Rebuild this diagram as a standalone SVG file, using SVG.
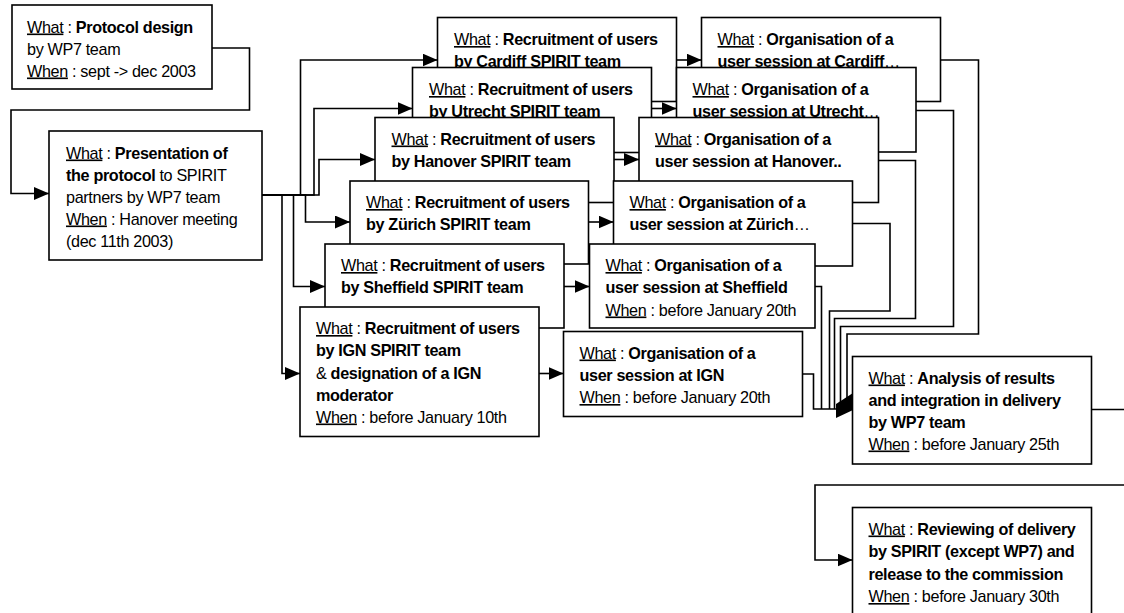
<svg xmlns="http://www.w3.org/2000/svg" width="1124" height="613" viewBox="0 0 1124 613">
<style>
.box{fill:#fff;stroke:#000;stroke-width:1.6}
.t{font-family:"Liberation Sans",Arial,sans-serif;font-size:16.2px;letter-spacing:-0.35px;fill:#000}
.b{font-weight:bold}
.u{text-decoration:underline}
.c{fill:none;stroke:#000;stroke-width:1.6}
.a{marker-end:url(#arr)}
</style>
<defs>
<marker id="arr" viewBox="0 0 15 13" refX="15" refY="6.5" markerWidth="15" markerHeight="13" markerUnits="userSpaceOnUse" orient="auto"><path d="M0,0 L15,6.5 L0,13 z" fill="#000"/></marker>
</defs>
<rect width="1124" height="613" fill="#fff"/>

<g id="n-protocol-design">
<rect class="box" x="12" y="5" width="200" height="84"/>
<text class="t"><tspan x="27" y="32.5"><tspan class="u">What</tspan> : <tspan class="b">Protocol design</tspan></tspan><tspan x="27" y="54.5">by WP7 team</tspan><tspan x="27" y="76.5"><tspan class="u">When</tspan> : sept -&gt; dec 2003</tspan></text>
</g>

<g id="n-presentation">
<rect class="box" x="49" y="131" width="213" height="129"/>
<text class="t"><tspan x="66" y="158.5"><tspan class="u">What</tspan> : <tspan class="b">Presentation of</tspan></tspan><tspan x="66" y="180.5"><tspan class="b">the protocol</tspan> to SPIRIT</tspan><tspan x="66" y="202.5">partners by WP7 team</tspan><tspan x="66" y="224.5"><tspan class="u">When</tspan> : Hanover meeting</tspan><tspan x="66" y="246.5">(dec 11th 2003)</tspan></text>
</g>

<g id="n-recruit-cardiff">
<rect class="box" x="437.5" y="17.5" width="239" height="84"/>
<text class="t"><tspan x="454" y="45"><tspan class="u">What</tspan> : <tspan class="b">Recruitment of users</tspan></tspan><tspan x="454" y="67" class="b">by Cardiff SPIRIT team</tspan></text>
</g>
<g id="n-org-cardiff">
<rect class="box" x="701.5" y="17.5" width="239" height="84"/>
<text class="t"><tspan x="717.5" y="45"><tspan class="u">What</tspan> : <tspan class="b">Organisation of a</tspan></tspan><tspan x="717.5" y="67"><tspan class="b">user session at Cardiff</tspan>…</tspan></text>
</g>

<g id="n-recruit-utrecht">
<rect class="box" x="412.5" y="67.5" width="239" height="85"/>
<text class="t"><tspan x="429" y="95"><tspan class="u">What</tspan> : <tspan class="b">Recruitment of users</tspan></tspan><tspan x="429" y="117" class="b">by Utrecht SPIRIT team</tspan></text>
</g>
<g id="n-org-utrecht">
<rect class="box" x="676.5" y="67.5" width="239.5" height="84.5"/>
<text class="t"><tspan x="692.5" y="95"><tspan class="u">What</tspan> : <tspan class="b">Organisation of a</tspan></tspan><tspan x="692.5" y="117"><tspan class="b">user session at Utrecht</tspan>…</tspan></text>
</g>

<g id="n-recruit-hanover">
<rect class="box" x="375" y="117.5" width="239" height="85"/>
<text class="t"><tspan x="391.5" y="144.5"><tspan class="u">What</tspan> : <tspan class="b">Recruitment of users</tspan></tspan><tspan x="391.5" y="166.5" class="b">by Hanover SPIRIT team</tspan></text>
</g>
<g id="n-org-hanover">
<rect class="box" x="639" y="117.5" width="239.5" height="85"/>
<text class="t"><tspan x="655" y="144.5"><tspan class="u">What</tspan> : <tspan class="b">Organisation of a</tspan></tspan><tspan x="655" y="166.5" class="b">user session at Hanover..</tspan></text>
</g>

<g id="n-recruit-zurich">
<rect class="box" x="350" y="181" width="238.5" height="83"/>
<text class="t"><tspan x="366" y="208"><tspan class="u">What</tspan> : <tspan class="b">Recruitment of users</tspan></tspan><tspan x="366" y="230" class="b">by Zürich SPIRIT team</tspan></text>
</g>
<g id="n-org-zurich">
<rect class="box" x="613.5" y="181" width="239" height="85"/>
<text class="t"><tspan x="629.5" y="208"><tspan class="u">What</tspan> : <tspan class="b">Organisation of a</tspan></tspan><tspan x="629.5" y="230"><tspan class="b">user session at Zürich</tspan>…</tspan></text>
</g>

<g id="n-recruit-sheffield">
<rect class="box" x="325" y="244" width="239" height="84"/>
<text class="t"><tspan x="341" y="271"><tspan class="u">What</tspan> : <tspan class="b">Recruitment of users</tspan></tspan><tspan x="341" y="293" class="b">by Sheffield SPIRIT team</tspan></text>
</g>
<g id="n-org-sheffield">
<rect class="box" x="589.5" y="244" width="225.5" height="84"/>
<text class="t"><tspan x="605.5" y="271"><tspan class="u">What</tspan> : <tspan class="b">Organisation of a</tspan></tspan><tspan x="605.5" y="293" class="b">user session at Sheffield</tspan><tspan x="605.5" y="315.5"><tspan class="u">When</tspan> : before January 20th</tspan></text>
</g>

<g id="n-recruit-ign">
<rect class="box" x="300" y="307" width="239" height="129.5"/>
<text class="t"><tspan x="316" y="334"><tspan class="u">What</tspan> : <tspan class="b">Recruitment of users</tspan></tspan><tspan x="316" y="356" class="b">by IGN SPIRIT team</tspan><tspan x="316" y="378.5">&amp; <tspan class="b">designation of a IGN</tspan></tspan><tspan x="316" y="400.5" class="b">moderator</tspan><tspan x="316" y="422.5"><tspan class="u">When</tspan> : before January 10th</tspan></text>
</g>
<g id="n-org-ign">
<rect class="box" x="563.5" y="331.5" width="239" height="85"/>
<text class="t"><tspan x="579.5" y="358.5"><tspan class="u">What</tspan> : <tspan class="b">Organisation of a</tspan></tspan><tspan x="579.5" y="380.5" class="b">user session at IGN</tspan><tspan x="579.5" y="403"><tspan class="u">When</tspan> : before January 20th</tspan></text>
</g>

<g id="n-analysis">
<rect class="box" x="852.5" y="356.5" width="239" height="107.5"/>
<text class="t"><tspan x="868.5" y="383.5"><tspan class="u">What</tspan> : <tspan class="b">Analysis of results</tspan></tspan><tspan x="868.5" y="405.5" class="b">and integration in delivery</tspan><tspan x="868.5" y="427.5" class="b">by WP7 team</tspan><tspan x="868.5" y="449.5"><tspan class="u">When</tspan> : before January 25th</tspan></text>
</g>

<g id="n-review">
<rect class="box" x="852.5" y="507.5" width="239" height="120"/>
<text class="t"><tspan x="868.5" y="534.5"><tspan class="u">What</tspan> : <tspan class="b">Reviewing of delivery</tspan></tspan><tspan x="868.5" y="557" class="b">by SPIRIT (except WP7) and</tspan><tspan x="868.5" y="579.5" class="b">release to the commission</tspan><tspan x="868.5" y="602"><tspan class="u">When</tspan> : before January 30th</tspan></text>
</g>

<g id="connectors">
<path class="c a" d="M212,48 H249.5 V110 H11 V193.5 H49"/>
<path class="c a" d="M262,195 H300.5 V60 H437.5"/>
<path class="c a" d="M262,195 H314 V108.5 H412.5"/>
<path class="c a" d="M262,195 H319 V159.5 H375"/>
<path class="c a" d="M262,195 H305.5 V222 H350"/>
<path class="c a" d="M262,195 H293.5 V286.5 H325"/>
<path class="c a" d="M262,195 H282 V373.5 H300"/>
<path class="c a" d="M676.5,60 H701.5"/>
<path class="c a" d="M651.5,108.5 H676.5"/>
<path class="c a" d="M614,159.5 H639"/>
<path class="c a" d="M588.5,222 H613.5"/>
<path class="c a" d="M564,286.5 H589.5"/>
<path class="c a" d="M539,373.5 H563.5"/>
<path class="c" d="M940.5,60 H978.5 V334 H847 V399"/>
<path class="c" d="M916,110.5 H953.5 V326.5 H840.5 V403"/>
<path class="c" d="M878.5,160.5 H915.5 V318.5 H834.5 V409"/>
<path class="c" d="M852.5,223.5 H890 V311 H829.5 V409"/>
<path class="c" d="M815,286.5 H821.5 V409"/>
<path class="c" d="M802.5,374 H813.5 V409 H837"/>
<polygon points="836,404 853,393 853,410 836,418" fill="#000"/>
<path class="c" d="M1091.5,409.5 H1124"/>
<path class="c a" d="M1124,485 H815 V560 H852.5"/>
</g>
</svg>
